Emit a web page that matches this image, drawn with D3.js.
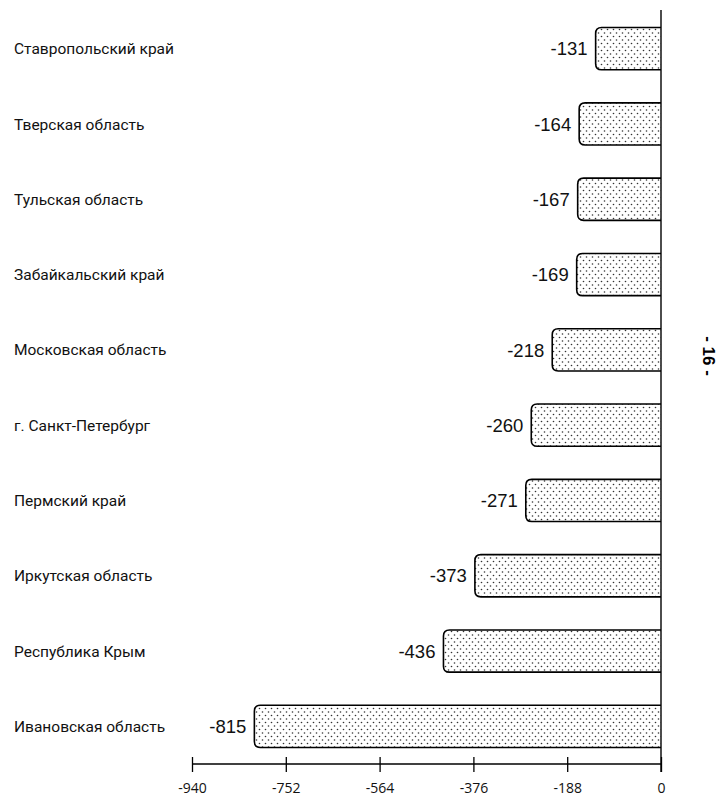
<!DOCTYPE html>
<html><head><meta charset="utf-8">
<script src="https://cdn.jsdelivr.net/npm/d3@7"></script>
<style>body{margin:0;background:#fff}svg{display:block}</style>
</head><body>
<svg id="c" width="721" height="799"></svg>
<script>
const categories = ["Ставропольский край","Тверская область","Тульская область","Забайкальский край","Московская область","г. Санкт-Петербург","Пермский край","Иркутская область","Республика Крым","Ивановская область"];
const values = [-131,-164,-167,-169,-218,-260,-271,-373,-436,-815];
const tickValues = [-940,-752,-564,-376,-188,0];
const pageLabel = "- 16 -";

const svg = d3.select("#c");
const x = d3.scaleLinear().domain([-940,0]).range([192,661]);
const y = d3.scaleBand().domain(categories).range([11,764]).paddingInner(0.44).paddingOuter(0.22);

const defs = svg.append("defs");
const pat = defs.append("pattern").attr("id","dots").attr("patternUnits","userSpaceOnUse")
  .attr("width",6).attr("height",7);
pat.append("rect").attr("width",6).attr("height",7).attr("fill","#fff");
pat.append("circle").attr("cx",1.5).attr("cy",1.5).attr("r",0.8).attr("fill","#333");
pat.append("circle").attr("cx",4.5).attr("cy",5).attr("r",0.8).attr("fill","#333");

const r = 6;
function barPath(x0, x1, y0, h){
  return `M${x1},${y0} L${x0+r},${y0} Q${x0},${y0} ${x0},${y0+r} L${x0},${y0+h-r} Q${x0},${y0+h} ${x0+r},${y0+h} L${x1},${y0+h}`;
}
const g = svg.append("g");
categories.forEach((c,i)=>{
  const y0 = y(c), h = y.bandwidth();
  const x0 = x(values[i]), x1 = x(0);
  g.append("rect").attr("x",x0).attr("y",y0).attr("width",x1-x0).attr("height",h).attr("rx",r).attr("fill","url(#dots)");
  g.append("rect").attr("x",x1-r-1).attr("y",y0).attr("width",r+1).attr("height",h).attr("fill","url(#dots)");
  g.append("path").attr("d",barPath(x0,x1,y0,h)).attr("fill","none").attr("stroke","#000").attr("stroke-width",1.6);
  g.append("text").attr("x",x0-8).attr("y",y0+h/2).attr("dy","0.36em").attr("text-anchor","end")
    .attr("font-family","'Liberation Sans', Arial, sans-serif").attr("font-size",18.5).attr("fill","#111").text(values[i]);
  svg.append("text").attr("x",14).attr("y",y0+h/2).attr("dy","0.36em")
    .attr("font-family","Roboto, 'Liberation Sans', Arial, sans-serif").attr("font-size",15.5).attr("fill","#111").text(c);
});

svg.append("line").attr("x1",x(0)).attr("x2",x(0)).attr("y1",10).attr("y2",772).attr("stroke","#000").attr("stroke-width",1.4);

const ax = svg.append("g").attr("transform","translate(0,764)")
  .call(d3.axisBottom(x).tickValues(tickValues).tickSize(0).tickFormat(d => String(d)));
ax.select(".domain").attr("stroke","#000").attr("stroke-width",1.6).attr("d",`M${x(-940)},0H${x(0)}`);
ax.selectAll(".tick line").remove();
ax.selectAll(".tick").append("line").attr("y1",-7).attr("y2",8).attr("stroke","#000").attr("stroke-width",1.3);
ax.selectAll(".tick text").attr("y",19).attr("dy","0.71em").attr("font-family","'Open Sans', 'DejaVu Sans', sans-serif").attr("font-size",14).attr("fill","#111");

svg.append("text").attr("transform","translate(703,356) rotate(90)").attr("text-anchor","middle")
  .attr("font-family","'Liberation Sans', Arial, sans-serif").attr("font-weight","bold").attr("font-size",17).text(pageLabel);
</script>
</body></html>
